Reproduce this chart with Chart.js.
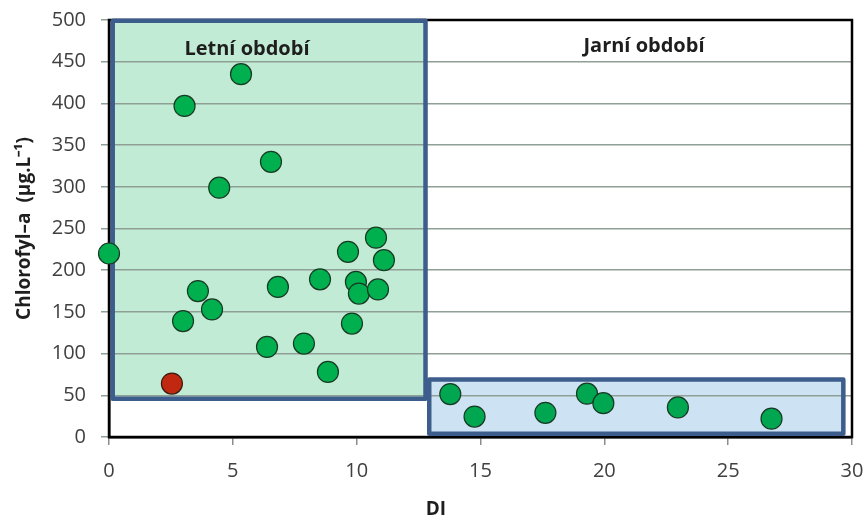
<!DOCTYPE html>
<html>
<head>
<meta charset="utf-8">
<script src="https://cdn.jsdelivr.net/npm/chart.js@4"></script>
<style>
  html, body { margin: 0; padding: 0; background: #fff; }
  #wrap { width: 868px; height: 521px; }
</style>
</head>
<body>
<div id="wrap"><canvas id="diChart" width="868" height="521"></canvas></div>
<script>
// summer points (green)
const summerDI = [0, 3.05, 5.33, 4.45, 6.54, 3.59, 2.99, 4.16, 6.38, 6.82, 7.87, 8.52, 8.84, 9.65, 9.81, 9.97, 10.09, 10.78, 10.86, 11.1];
const summerChl = [220, 397, 435, 299, 330, 175, 139, 153, 108, 180, 112, 189, 78, 222, 136, 186, 172, 239, 177, 212];
// outlier (red)
const outlierDI = [2.54];
const outlierChl = [64];
// spring points
const springDI = [13.78, 14.76, 17.62, 19.3, 19.96, 22.97, 26.75];
const springChl = [51.5, 24.5, 29, 52, 40.5, 35.5, 22];

const xTicks = [0, 5, 10, 15, 20, 25, 30];
const yTicks = [0, 50, 100, 150, 200, 250, 300, 350, 400, 450, 500];

// shaded period boxes [xMin, xMax, yMin, yMax]
const summerBox = [0.15, 12.78, 46, 499];
const springBox = [12.93, 29.65, 4, 69];
const periodLabels = ["Letní období", "Jarní období"];
const labelPos = [[5.57, 465], [21.6, 468]];

const toXY = (xs, ys) => xs.map((x, i) => ({ x: x, y: ys[i] }));

function boxPx(chart, b) {
  const xs = chart.scales.x, ys = chart.scales.y;
  const x1 = xs.getPixelForValue(b[0]), x2 = xs.getPixelForValue(b[1]);
  const y1 = ys.getPixelForValue(b[3]), y2 = ys.getPixelForValue(b[2]);
  return [x1, y1, x2 - x1, y2 - y1];
}

const periodPlugin = {
  id: 'periods',
  beforeDraw(chart) {
    const ctx = chart.ctx;
    ctx.save();
    ctx.fillStyle = '#c1ebd4';
    ctx.fillRect(...boxPx(chart, summerBox));
    ctx.fillStyle = '#cde2f3';
    ctx.fillRect(...boxPx(chart, springBox));
    ctx.restore();
  },
  beforeDatasetsDraw(chart) {
    const ctx = chart.ctx, a = chart.chartArea;
    ctx.save();
    ctx.strokeStyle = '#000';
    ctx.lineWidth = 2.5;
    ctx.strokeRect(a.left, a.top, a.right - a.left, a.bottom - a.top);
    ctx.strokeStyle = '#3d5d8c';
    ctx.lineWidth = 4.5;
    ctx.lineJoin = 'round';
    ctx.strokeRect(...boxPx(chart, summerBox));
    ctx.strokeRect(...boxPx(chart, springBox));

    ctx.fillStyle = '#1e1e1e';
    ctx.font = 'bold 20px "Open Sans", sans-serif';
    ctx.textAlign = 'center';
    ctx.textBaseline = 'middle';
    periodLabels.forEach((t, i) => {
      ctx.fillText(t, chart.scales.x.getPixelForValue(labelPos[i][0]),
                      chart.scales.y.getPixelForValue(labelPos[i][1]));
    });
    // x axis title, sits left of centre in the original
    ctx.font = 'bold 19px "Open Sans", sans-serif';
    ctx.fillText('DI', chart.scales.x.getPixelForValue(13.2), 510);
    ctx.restore();
  }
};

const ctx = document.getElementById('diChart').getContext('2d');

new Chart(ctx, {
  type: 'scatter',
  data: {
    datasets: [
      {
        label: 'Letní',
        data: toXY(summerDI, summerChl),
        backgroundColor: '#00b04f',
        borderColor: '#173a22',
        borderWidth: 1.2,
        pointRadius: 10.5,
        pointHoverRadius: 10.5
      },
      {
        label: 'Odlehlá',
        data: toXY(outlierDI, outlierChl),
        backgroundColor: '#c0290f',
        borderColor: '#3a1a10',
        borderWidth: 1.2,
        pointRadius: 10.5,
        pointHoverRadius: 10.5
      },
      {
        label: 'Jarní',
        data: toXY(springDI, springChl),
        backgroundColor: '#00a650',
        borderColor: '#173a22',
        borderWidth: 1.2,
        pointRadius: 10.5,
        pointHoverRadius: 10.5
      }
    ]
  },
  options: {
    responsive: false,
    animation: false,
    clip: false,
    layout: { padding: { left: 0, top: 20, right: 16, bottom: 0 } },
    plugins: {
      legend: { display: false },
      tooltip: { enabled: false }
    },
    scales: {
      x: {
        type: 'linear',
        min: 0,
        max: 30,
        afterBuildTicks: (s) => { s.ticks = xTicks.map(v => ({ value: v })); },
        afterFit: (s) => { s.height = 84; s.paddingLeft = 0; s.paddingRight = 0; },
        grid: { drawOnChartArea: false, tickLength: 8, color: '#8c8c8c', lineWidth: 1.5 },
        border: { color: '#000', width: 2.5 },
        ticks: {
          color: '#404040',
          padding: 14,
          font: { family: '"Open Sans", sans-serif', size: 20 }
        },
        title: { display: false }
      },
      y: {
        min: 0,
        max: 500,
        afterBuildTicks: (s) => { s.ticks = yTicks.map(v => ({ value: v })); },
        afterFit: (s) => { s.width = 109; s.paddingTop = 0; s.paddingBottom = 0; },
        grid: { tickLength: 8, color: '#8f9f95', lineWidth: 1.5 },
        border: { color: '#000', width: 2.5 },
        ticks: {
          color: '#404040',
          padding: 15,
          font: { family: '"Open Sans", sans-serif', size: 20 }
        },
        title: {
          display: true,
          text: 'Chlorofyl–a  (µg.L⁻¹)',
          color: '#1e1e1e',
          padding: { top: 13, bottom: 0 },
          font: { family: '"Open Sans", sans-serif', size: 19, weight: 'bold' }
        }
      }
    }
  },
  plugins: [periodPlugin]
});
</script>
</body>
</html>
